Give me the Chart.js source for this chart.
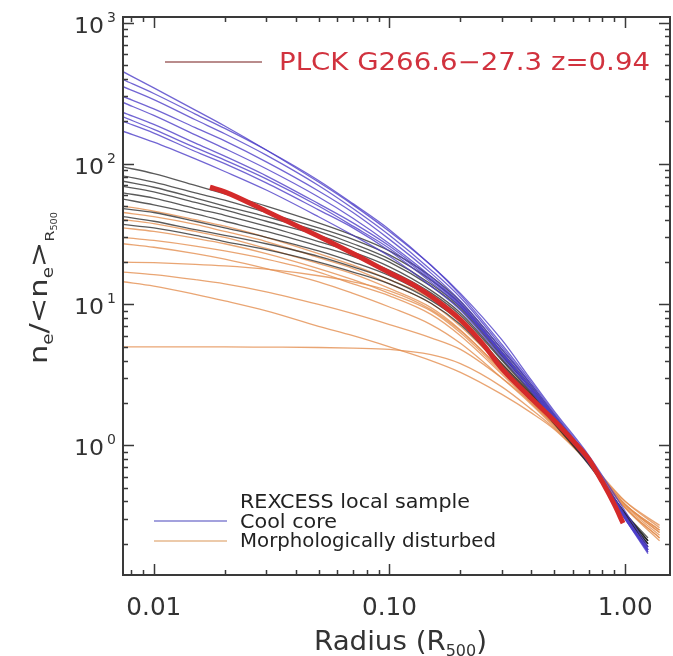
<!DOCTYPE html>
<html>
<head>
<meta charset="utf-8">
<script src="https://cdn.jsdelivr.net/npm/chart.js@4.4.1/dist/chart.umd.min.js"></script>
<style>
  html, body { margin: 0; padding: 0; background: #fff; }
  #wrap { width: 673px; height: 656px; position: relative; }
</style>
</head>
<body>
<div id="wrap"><canvas id="profiles"></canvas></div>
<script>
// radius grids (R500)
const radiusCore = [0.0074, 0.01, 0.015, 0.02, 0.03, 0.05, 0.07, 0.1, 0.15, 0.2, 0.3, 0.4, 0.5, 0.7, 1.0, 1.25];
const radiusDisturbed = [0.0074, 0.01, 0.015, 0.02, 0.03, 0.05, 0.07, 0.1, 0.15, 0.2, 0.3, 0.4, 0.5, 0.7, 1.0, 1.4];
const radiusPlck = [0.0173, 0.02, 0.03, 0.05, 0.07, 0.1, 0.13, 0.16, 0.2, 0.25, 0.3, 0.4, 0.5, 0.6, 0.7, 0.8, 0.9, 0.98];

const plckDensity = [68, 63, 46, 30.5, 23, 16.8, 13.4, 10.6, 7.8, 5.2, 3.5, 2.15, 1.5, 1.08, 0.8, 0.55, 0.38, 0.28];

// REXCESS cool core clusters
const coolCoreProfiles = [
  [450, 345, 240, 185, 125, 74, 51, 33, 19, 12, 5.6, 2.9, 1.75, 0.85, 0.34, 0.19],
  [395, 315, 225, 178, 125, 76, 52, 34, 19, 11.7, 5.2, 2.8, 1.7, 0.82, 0.32, 0.18],
  [352, 285, 205, 163, 115, 70, 48, 31, 17.6, 11.2, 5.0, 2.7, 1.65, 0.8, 0.31, 0.175],
  [300, 245, 180, 145, 103, 64, 45, 29, 16.7, 10.6, 4.8, 2.65, 1.62, 0.78, 0.3, 0.17],
  [272, 220, 160, 128, 92, 58, 41, 27, 15.8, 10.2, 4.6, 2.55, 1.6, 0.78, 0.3, 0.175],
  [231, 190, 140, 113, 82, 52, 38, 26, 15.3, 10, 4.5, 2.5, 1.55, 0.76, 0.31, 0.18],
  [215, 175, 130, 106, 78, 50, 36, 25, 14.9, 9.8, 4.5, 2.5, 1.55, 0.77, 0.3, 0.18],
  [200, 165, 122, 100, 73, 47, 35, 24, 14.4, 9.6, 4.4, 2.5, 1.55, 0.77, 0.31, 0.185],
  [170, 142, 108, 88, 65, 42, 31, 22, 13.5, 9.1, 4.2, 2.4, 1.5, 0.75, 0.3, 0.18]
];

// REXCESS intermediate clusters
const otherProfiles = [
  [95, 85, 70, 61, 50, 38, 31, 24, 15.8, 10.5, 4.8, 2.7, 1.65, 0.8, 0.32, 0.19],
  [82, 74, 62, 55, 45, 35, 29, 22.5, 14.9, 10.1, 4.6, 2.6, 1.6, 0.78, 0.31, 0.19],
  [75, 68, 57, 50, 42, 33, 27, 21, 14, 9.6, 4.4, 2.5, 1.55, 0.77, 0.31, 0.2],
  [69, 63, 53, 47, 39, 31, 25.5, 20, 13.5, 9.3, 4.3, 2.5, 1.55, 0.78, 0.32, 0.2],
  [62, 57, 48, 43, 36, 28, 23.5, 18.5, 12.6, 8.7, 4.1, 2.4, 1.5, 0.76, 0.32, 0.21],
  [56, 51, 44, 39, 33, 26, 22, 17.5, 12.1, 8.4, 4.0, 2.35, 1.5, 0.76, 0.33, 0.21],
  [48, 45, 39, 35, 30, 24, 20, 16, 11.2, 7.9, 3.8, 2.3, 1.48, 0.75, 0.32, 0.2],
  [42, 39, 34, 31, 27, 22, 18.5, 15, 10.7, 7.6, 3.7, 2.25, 1.45, 0.74, 0.33, 0.21],
  [37, 35, 31, 28, 24.5, 20, 17, 14, 10.2, 7.2, 3.6, 2.2, 1.42, 0.73, 0.33, 0.22]
];

// REXCESS morphologically disturbed clusters
const disturbedProfiles = [
  [50, 46, 40, 36, 30, 23, 19, 15, 11, 7.4, 3.8, 2.3, 1.5, 0.78, 0.36, 0.21],
  [45, 42, 37, 33, 28, 21.5, 18, 14, 10.2, 7.0, 3.6, 2.2, 1.45, 0.76, 0.36, 0.22],
  [40, 37.5, 33, 30, 25, 19.5, 16.5, 13, 9.5, 6.6, 3.4, 2.1, 1.42, 0.75, 0.36, 0.22],
  [35, 33, 29.5, 27, 23, 18, 15, 12, 9, 6.3, 3.3, 2.05, 1.4, 0.75, 0.37, 0.23],
  [30, 28.5, 26, 24, 21, 17, 14, 11.5, 8.5, 6.0, 3.2, 2.0, 1.38, 0.76, 0.38, 0.24],
  [27, 25.5, 23, 21, 18, 14.5, 12, 9.6, 7.2, 5.3, 3.0, 1.95, 1.35, 0.76, 0.38, 0.25],
  [20, 19.8, 19.3, 18.8, 17.8, 16, 14.5, 12.5, 9.2, 6.5, 3.4, 2.1, 1.45, 0.78, 0.38, 0.24],
  [17, 16.3, 15, 14, 12.3, 10, 8.6, 7.2, 5.8, 4.8, 3.0, 2.0, 1.4, 0.78, 0.4, 0.26],
  [14.5, 13.5, 11.8, 10.6, 9, 7, 6, 5, 4, 3.3, 2.3, 1.7, 1.3, 0.75, 0.4, 0.27],
  [5, 5, 5, 5, 4.98, 4.95, 4.9, 4.8, 4.4, 3.8, 2.6, 1.8, 1.32, 0.76, 0.38, 0.25]
];

const xTickValues = [0.01, 0.1, 1];
const xTickLabels = ["0.01", "0.10", "1.00"];
const yTickValues = [1, 10, 100, 1000];
const yTickExponents = ["0", "1", "2", "3"];

const FONT = '"DejaVu Sans", "Liberation Sans", sans-serif';
const COLORS = {
  plck: "#d42a2a",
  cool: "rgba(78, 62, 200, 0.8)",
  other: "rgba(35, 35, 35, 0.75)",
  disturbed: "rgba(228, 142, 80, 0.8)",
  axis: "#3a3a3a"
};

function toPoints(radii, values) {
  return values.map((v, i) => ({ x: radii[i], y: v }));
}

function profileDataset(radii, values, color, width) {
  return {
    data: toPoints(radii, values),
    borderColor: color,
    borderWidth: width,
    pointRadius: 0,
    fill: false,
    cubicInterpolationMode: "monotone"
  };
}

// draws text stretched to a measured width
function drawFitted(ctx, text, x, y, width, align) {
  const natural = ctx.measureText(text).width;
  ctx.save();
  ctx.translate(x, y);
  ctx.scale(width / natural, 1);
  ctx.textAlign = align || "left";
  ctx.fillText(text, 0, 0);
  ctx.restore();
}

function drawParts(ctx, parts, x, y, totalWidth) {
  let natural = 0;
  parts.forEach((p) => {
    ctx.font = `${p.size}px ${FONT}`;
    p.w = ctx.measureText(p.t).width;
    natural += p.w;
  });
  ctx.save();
  ctx.translate(x, y);
  ctx.scale(totalWidth / natural, 1);
  ctx.textAlign = "left";
  let cx = 0;
  parts.forEach((p) => {
    ctx.font = `${p.size}px ${FONT}`;
    ctx.fillText(p.t, cx, p.dy);
    cx += p.w;
  });
  ctx.restore();
}

function createFramePlugin() {
  return {
    id: "idl-frame",
    afterDraw(chart) {
      const { ctx, chartArea: a, scales } = chart;
      const xs = scales.x, ys = scales.y;
      ctx.save();
      ctx.strokeStyle = COLORS.axis;
      ctx.lineWidth = 2;
      ctx.strokeRect(a.left, a.top, a.right - a.left, a.bottom - a.top);

      ctx.lineWidth = 1.5;
      ctx.beginPath();
      for (let d = -3; d <= 0; d++) {
        for (let k = 1; k <= 9; k++) {
          const v = k * Math.pow(10, d);
          if (v < xs.min || v > xs.max) continue;
          const px = Math.round(xs.getPixelForValue(v)) + 0.5;
          const len = k === 1 ? 11 : 5;
          ctx.moveTo(px, a.bottom); ctx.lineTo(px, a.bottom - len);
          ctx.moveTo(px, a.top); ctx.lineTo(px, a.top + len);
        }
      }
      for (let d = -1; d <= 3; d++) {
        for (let k = 1; k <= 9; k++) {
          const v = k * Math.pow(10, d);
          if (v < ys.min || v > ys.max) continue;
          const py = Math.round(ys.getPixelForValue(v)) + 0.5;
          const len = k === 1 ? 11 : 5;
          ctx.moveTo(a.left, py); ctx.lineTo(a.left + len, py);
          ctx.moveTo(a.right, py); ctx.lineTo(a.right - len, py);
        }
      }
      ctx.stroke();

      ctx.fillStyle = "#333";
      ctx.textBaseline = "alphabetic";
      ctx.font = `25px ${FONT}`;
      xTickValues.forEach((v, i) => {
        drawFitted(ctx, xTickLabels[i], xs.getPixelForValue(v), 615, 55, "center");
      });
      yTickValues.forEach((v, i) => {
        const py = ys.getPixelForValue(v);
        ctx.font = `22px ${FONT}`;
        drawFitted(ctx, "10", 104, py + 10, 30, "right");
        ctx.font = `14px ${FONT}`;
        ctx.textAlign = "left";
        ctx.fillText(yTickExponents[i], 107, py - 1);
      });

      // x title with subscript
      drawParts(ctx, [
        { t: "Radius (R", size: 26, dy: 0 },
        { t: "500", size: 15, dy: 6 },
        { t: ")", size: 26, dy: 0 }
      ], 314, 650, 173);

      // y title, rotated
      ctx.save();
      ctx.translate(47, 364);
      ctx.rotate(-Math.PI / 2);
      drawParts(ctx, [
        { t: "n", size: 25, dy: 0 },
        { t: "e", size: 15, dy: 6 },
        { t: "/<n", size: 25, dy: 0 },
        { t: "e", size: 15, dy: 6 },
        { t: ">", size: 25, dy: 0 },
        { t: "R", size: 13, dy: 7 },
        { t: "500", size: 8, dy: 10 }
      ], 0, 0, 152);
      ctx.restore();

      // legend top
      ctx.strokeStyle = "#b98c8c";
      ctx.lineWidth = 2;
      ctx.beginPath();
      ctx.moveTo(165, 62); ctx.lineTo(262, 62);
      ctx.stroke();
      ctx.fillStyle = "#d1323e";
      ctx.font = `24px ${FONT}`;
      drawFitted(ctx, "PLCK G266.6\u221227.3 z=0.94", 279, 70, 371, "left");

      // legend bottom
      ctx.lineWidth = 1.5;
      ctx.strokeStyle = "#8582d2";
      ctx.beginPath(); ctx.moveTo(154, 521); ctx.lineTo(227, 521); ctx.stroke();
      ctx.strokeStyle = "#e6b98e";
      ctx.beginPath(); ctx.moveTo(154, 541); ctx.lineTo(227, 541); ctx.stroke();
      ctx.fillStyle = "#222";
      ctx.font = `19px ${FONT}`;
      drawFitted(ctx, "REXCESS local sample", 240, 508, 230, "left");
      drawFitted(ctx, "Cool core", 240, 528, 97, "left");
      drawFitted(ctx, "Morphologically disturbed", 240, 547, 256, "left");
      ctx.restore();
    }
  };
}

const datasets = [profileDataset(radiusPlck, plckDensity, COLORS.plck, 5)];
coolCoreProfiles.forEach((vals) => datasets.push(profileDataset(radiusCore, vals, COLORS.cool, 1.3)));
otherProfiles.forEach((vals) => datasets.push(profileDataset(radiusCore, vals, COLORS.other, 1.3)));
disturbedProfiles.forEach((vals) => datasets.push(profileDataset(radiusDisturbed, vals, COLORS.disturbed, 1.3)));

new Chart(document.getElementById("profiles"), {
  type: "line",
  data: { datasets },
  options: {
    responsive: true,
    maintainAspectRatio: false,
    devicePixelRatio: 1,
    animation: false,
    layout: { padding: { left: 123, right: 3, top: 17, bottom: 81 } },
    plugins: { legend: { display: false }, tooltip: { enabled: false } },
    scales: {
      x: { type: "logarithmic", min: 0.0074, max: 1.55, display: false },
      y: { type: "logarithmic", min: 0.12, max: 1100, display: false }
    }
  },
  plugins: [createFramePlugin()]
});
</script>
</body>
</html>
